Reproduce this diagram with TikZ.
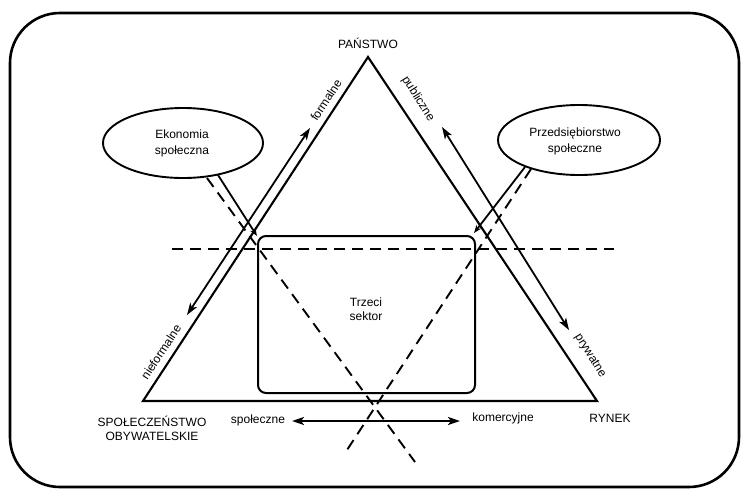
\documentclass[tikz,border=0pt]{standalone}
\usepackage{fontspec}
\setmainfont{Liberation Sans}
\usetikzlibrary{arrows.meta,calc,shapes.geometric}
\begin{document}
\begin{tikzpicture}[x=1pt,y=-1pt,
  lbl/.style={font=\fontsize{12}{14}\selectfont, inner sep=1pt, align=center},
  bubble/.style={draw, ellipse, line width=1.9pt, inner sep=0pt},
  tri/.style={line width=2.1pt, line join=miter},
  dsh/.style={line width=1.9pt, dash pattern=on 11pt off 7pt},
  arr/.style={line width=1.8pt, {Stealth[length=12pt,width=8pt,inset=3pt]}-{Stealth[length=12pt,width=8pt,inset=3pt]}},
  sarr/.style={line width=1.8pt, -{Stealth[length=8pt,width=6pt]}}
]
\useasboundingbox (0,0) rectangle (743,490);
% outer frame
\draw[line width=2.6pt, rounded corners=50pt] (10,13) rectangle (739,487);
% triangle
\coordinate (A) at (368,57);
\coordinate (BL) at (143,401);
\coordinate (BR) at (597,401);
\draw[tri] (A) -- (BL) -- (BR) -- cycle;
% labels of corners
\node[lbl] (panstwo) at (368,43) {PAŃSTWO};
\node[lbl] (spol) at (152,428) {SPOŁECZEŃSTWO\\OBYWATELSKIE};
\node[lbl] (rynek) at (610,418) {RYNEK};
% third sector box
\node[draw, line width=2pt, rounded corners=8pt, minimum width=217pt, minimum height=157pt] (ts) at (366.5,314.5) {};
\node[lbl] (tstext) at (366,309) {Trzeci\\sektor};
% ellipses
\node[bubble, minimum width=160pt, minimum height=70pt] (le) at (183,143) {};
\node[lbl, font=\fontsize{12}{16}\selectfont] (letext) at (182,143) {Ekonomia\\społeczna};
\node[bubble, minimum width=162pt, minimum height=70pt] (re) at (579,140) {};
\node[lbl, font=\fontsize{12}{16}\selectfont] (retext) at (575,141) {Przedsiębiorstwo\\społeczne};
% horizontal dashed line
\coordinate (h1) at (172,249);
\coordinate (h2) at (614,249);
\draw[dsh] (h1) -- (h2);
% connectors from ellipses
\coordinate (ls) at (218,175);
\coordinate (lt) at (257,236);
\draw[sarr] (ls) -- (lt);
\coordinate (rs) at (525,167);
\coordinate (rt) at (474,233);
\draw[sarr] (rs) -- (rt);
\coordinate (ld1) at (207,178);
\coordinate (ld2) at (415,462);
\draw[dsh] (ld1) -- (ld2);
\coordinate (rd1) at (531,169);
\coordinate (rd2) at (347,450);
\draw[dsh] (rd1) -- (rd2);
% side arrows
\coordinate (la1) at (187,315);
\coordinate (la2) at (310,128);
\draw[arr] (la1) -- (la2);
\coordinate (ra1) at (442,127);
\coordinate (ra2) at (569,330);
\draw[arr] (ra1) -- (ra2);
\node[lbl, rotate=56.7] (formalne) at (326,100) {formalne};
\node[lbl, rotate=56.7] (nieformalne) at (161,352) {nieformalne};
\node[lbl, rotate=-58] (publiczne) at (418,99) {publiczne};
\node[lbl, rotate=-58] (prywatne) at (590,356) {prywatne};
% bottom arrow
\node[lbl] (spoleczne) at (258,420) {społeczne};
\node[lbl] (komercyjne) at (503,418) {komercyjne};
\coordinate (b1) at (292,421);
\coordinate (b2) at (460,421);
\draw[arr, line width=2.6pt] (b1) -- (b2);
\end{tikzpicture}
\end{document}
